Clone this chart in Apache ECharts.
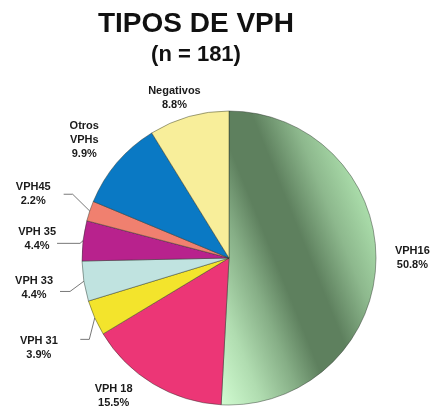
<!DOCTYPE html>
<html>
<head>
<meta charset="utf-8">
<script src="https://cdn.jsdelivr.net/npm/echarts@6/dist/echarts.min.js"></script>
<style>
  html, body { margin: 0; padding: 0; background: #fff; }
  #chart { width: 430px; height: 409px; }
</style>
</head>
<body>
<div id="chart"></div>
<script>
// datos
var categories = ['VPH16', 'VPH 18', 'VPH 31', 'VPH 33', 'VPH 35', 'VPH45', 'Otros\nVPHs', 'Negativos'];
var values = [50.8, 15.5, 3.9, 4.4, 4.4, 2.2, 9.9, 8.8];
var colors = ['#5F805F', '#EC3676', '#F3E42C', '#C0E3E0', '#B8228D', '#F0806F', '#0A79C4', '#F8EE9A'];

// ajustes de etiquetas
var lineLen = [8, 14, 6, 14, 3, 18, 20, 15];
var lineLen2 = [6, 8.5, 9, 10, 23, 9, 0, 0];
var showLine = [false, false, true, true, true, true, false, false];
var bendDy = [0, 0, 19, 8, 3, -11, 0, 0];
var labelDx = [0, 0, -17.5, -2, 4, -8, 2, 21];
var labelDy = [-4, 0, 28, 5, -1.5, -11, -9.5, -4.5];

var green = {
  type: 'linear', x: -0.25, y: 0.65, x2: 0.97, y2: 0.39,
  colorStops: [
    { offset: 0, color: '#CFFACF' },
    { offset: 0.18, color: '#B0DCB0' },
    { offset: 0.36, color: '#86AE86' },
    { offset: 0.5, color: '#5E805E' },
    { offset: 0.66, color: '#5E805E' },
    { offset: 0.84, color: '#8DB88D' },
    { offset: 1, color: '#A8DAA8' }
  ]
};

var data = [];
for (var i = 0; i < categories.length; i++) {
  data.push({
    name: categories[i],
    value: values[i],
    itemStyle: { color: i === 0 ? green : colors[i] },
    labelLine: { show: showLine[i], length: lineLen[i], length2: lineLen2[i] }
  });
}

var myChart = echarts.init(document.getElementById('chart'), null, { renderer: 'canvas' });
var option = {
  animation: false,
  title: [
    {
      text: 'TIPOS DE VPH',
      left: 196, top: 10, padding: 0, textAlign: 'center',
      textStyle: { fontFamily: 'Liberation Sans', fontWeight: 'bold', fontSize: 28, color: '#111' }
    },
    {
      text: '(n = 181)',
      left: 196, top: 44, padding: 0, textAlign: 'center',
      textStyle: { fontFamily: 'Liberation Sans', fontWeight: 'bold', fontSize: 22, color: '#111' }
    }
  ],
  series: [{
    type: 'pie',
    center: [229, 258],
    radius: 147,
    startAngle: 90,
    clockwise: true,
    avoidLabelOverlap: false,
    emphasis: { disabled: true },
    itemStyle: { borderColor: 'rgba(40,50,40,0.75)', borderWidth: 0.6 },
    label: {
      position: 'outside',
      fontFamily: 'Liberation Sans',
      fontWeight: 'bold',
      fontSize: 11,
      color: '#1a1a1a',
      lineHeight: 14,
      formatter: function (p) {
        var lines = p.name.split('\n');
        var s = '';
        for (var k = 0; k < lines.length; k++) {
          s += '{c|' + lines[k] + '}\n';
        }
        return s + '{c|' + p.value.toFixed(1) + '%}';
      },
      rich: {
        c: { align: 'center', fontFamily: 'Liberation Sans', fontWeight: 'bold', fontSize: 11, color: '#1a1a1a', lineHeight: 14 }
      }
    },
    labelLine: { lineStyle: { color: '#555', width: 0.8 } },
    labelLayout: function (params) {
      var i = params.dataIndex;
      var pts = params.labelLinePoints;
      var res = { dx: labelDx[i], dy: labelDy[i], hideOverlap: false, moveOverlap: false };
      if (pts && showLine[i]) {
        pts[1][1] += bendDy[i];
        pts[2][1] += bendDy[i];
        res.labelLinePoints = pts;
      }
      return res;
    },
    data: data
  }]
};
myChart.setOption(option);
</script>
</body>
</html>
